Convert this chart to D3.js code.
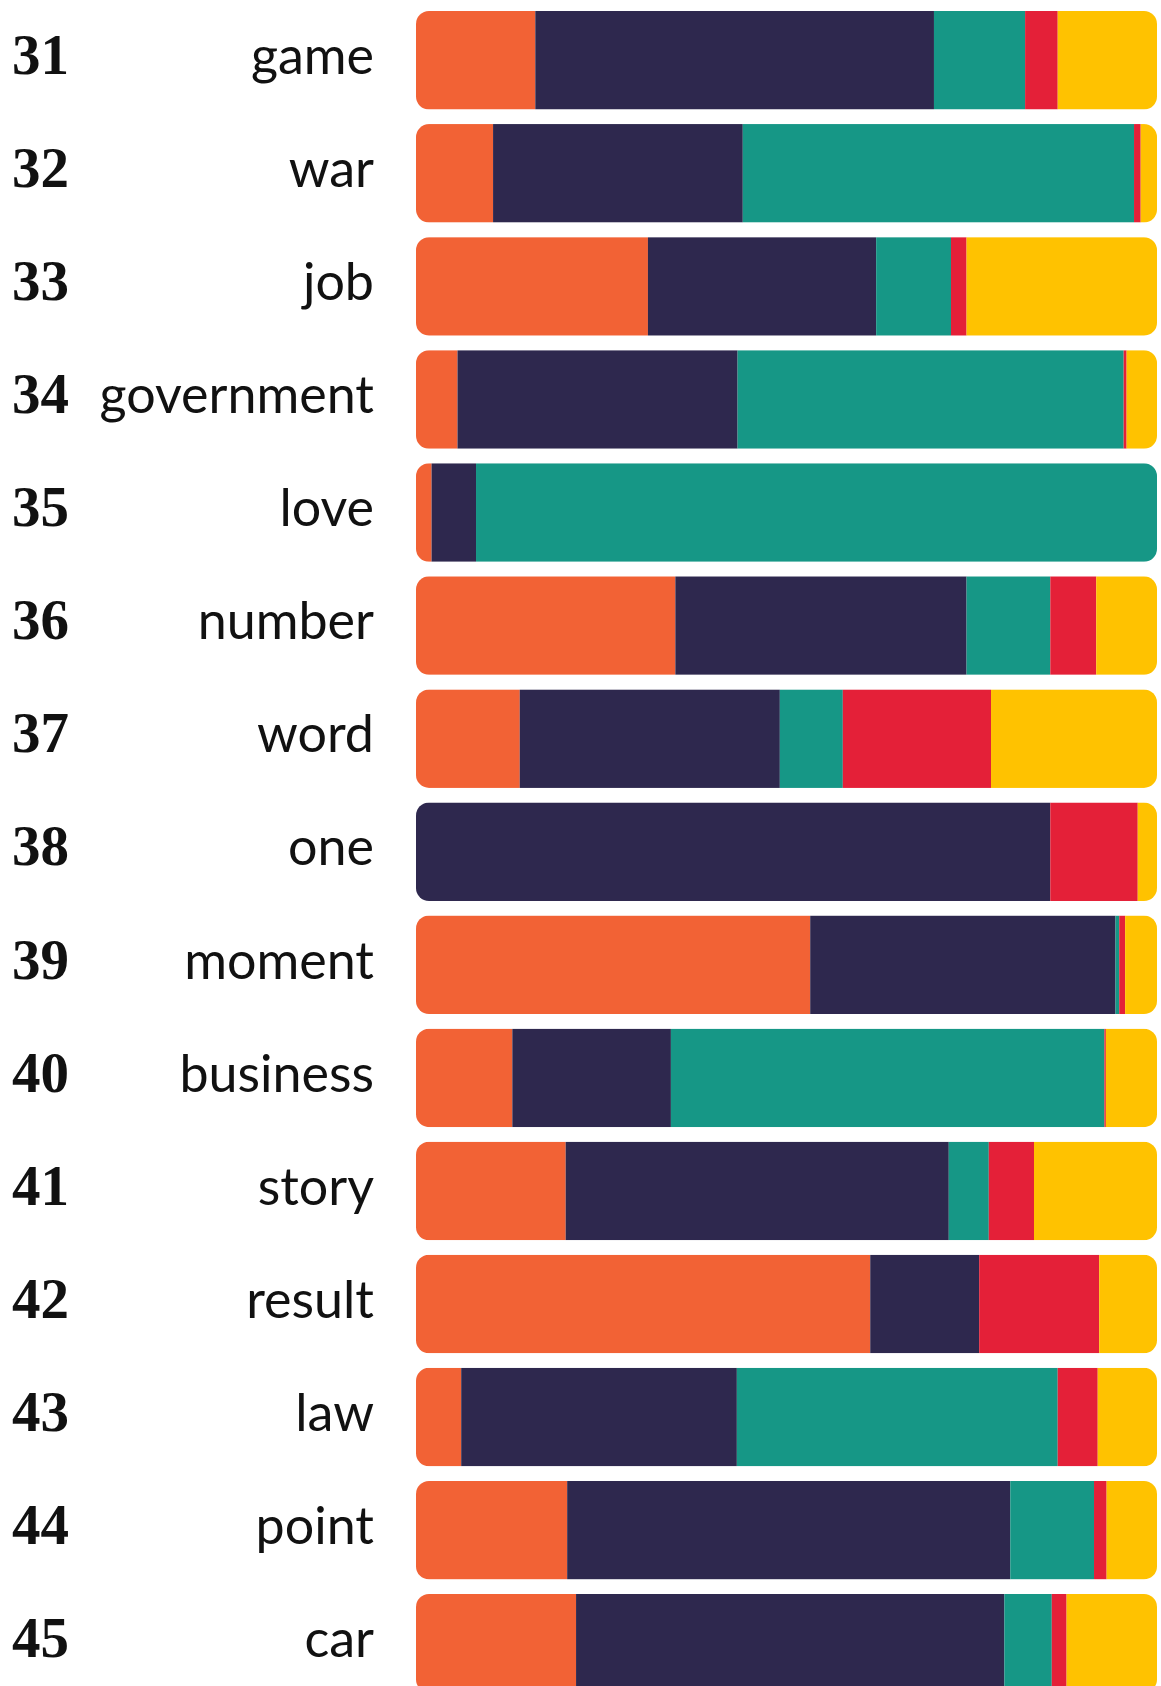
<!DOCTYPE html>
<html>
<head>
<meta charset="utf-8">
<script src="https://cdn.jsdelivr.net/npm/d3@7"></script>
<style>
  body { margin: 0; background: #fff; }
  #chart svg { display: block; }
</style>
</head>
<body>
<div id="chart"></div>
<script>
// ranks + words, top to bottom
var ranks = [31, 32, 33, 34, 35, 36, 37, 38, 39, 40, 41, 42, 43, 44, 45];
var words = ['game', 'war', 'job', 'government', 'love', 'number', 'word', 'one',
             'moment', 'business', 'story', 'result', 'law', 'point', 'car'];

// share of each segment (percent)
var seriesKeys = ['orange', 'navy', 'teal', 'red', 'yellow'];
var orange = [16.1, 10.4, 31.3,  5.6,  2.1, 35.0, 14.0,  0.0, 53.2, 13.0, 20.2, 61.3,  6.1, 20.4, 21.6];
var navy   = [53.8, 33.7, 30.8, 37.8,  6.0, 39.3, 35.1, 85.6, 41.2, 21.4, 51.7, 14.7, 37.2, 59.8, 57.8];
var teal   = [12.3, 52.8, 10.1, 52.1, 91.9, 11.3,  8.5,  0.0,  0.5, 58.5,  5.4,  0.0, 43.3, 11.3,  6.4];
var red    = [ 4.4,  0.9,  2.1,  0.4,  0.0,  6.2, 20.0, 11.8,  0.8,  0.2,  6.1, 16.2,  5.4,  1.7,  2.0];
var yellow = [13.4,  2.2, 25.7,  4.1,  0.0,  8.2, 22.4,  2.6,  4.3,  6.9, 16.6,  7.8,  8.0,  6.8, 12.2];

var colors = { orange: '#f26235', navy: '#2e284e', teal: '#169786', red: '#e42038', yellow: '#ffc200' };

var totalWidth = 1161;
var totalHeight = 1700;
var barLeft = 416, barRight = 1157;
var rowStep = 113.07, barH = 98.5, top0 = 11;

var rows = ranks.map(function(r, i) {
  return { rank: r, word: words[i], orange: orange[i], navy: navy[i], teal: teal[i], red: red[i], yellow: yellow[i] };
});

var svg = d3.select('#chart')
  .append('svg')
  .attr('width', totalWidth)
  .attr('height', totalHeight);

var stack = d3.stack().keys(seriesKeys)
  .offset(d3.stackOffsetExpand);
var layers = stack(rows);

var x = d3.scaleLinear().domain([0, 1]).range([barLeft, barRight]);
var y = d3.scalePoint()
  .domain(d3.range(rows.length))
  .range([top0, top0 + rowStep * (rows.length - 1)]);

// one clip per row for the rounded ends
var defs = svg.append('defs');
rows.forEach(function(d, i) {
  defs.append('clipPath')
    .attr('id', 'clip-' + i)
    .append('rect')
    .attr('x', x(0))
    .attr('y', y(i))
    .attr('width', x(1) - x(0))
    .attr('height', barH)
    .attr('rx', 13).attr('ry', 13);
});

var rowG = svg.selectAll('g.row')
  .data(rows)
  .enter()
  .append('g')
  .attr('class', 'row')
  .attr('clip-path', function(d, i) { return 'url(#clip-' + i + ')'; });

layers.forEach(function(layer) {
  rowG.append('rect')
    .datum(function(d, i) { return layer[i]; })
    .attr('x', function(s) { return x(s[0]); })
    .attr('y', function(s) { return y(rows.indexOf(s.data)); })
    .attr('width', function(s) { return Math.max(0, x(s[1]) - x(s[0])); })
    .attr('height', barH)
    .attr('fill', colors[layer.key]);
});

// rank numbers
svg.selectAll('text.rank')
  .data(rows)
  .enter()
  .append('text')
  .attr('class', 'rank')
  .attr('x', 12)
  .attr('y', function(d, i) { return y(i) + 63; })
  .style('font-family', '"Liberation Serif", serif')
  .style('font-weight', 'bold')
  .style('font-size', '57px')
  .style('fill', '#111')
  .text(function(d) { return d.rank; });

// words, right aligned
svg.selectAll('text.word')
  .data(rows)
  .enter()
  .append('text')
  .attr('class', 'word')
  .attr('x', 374)
  .attr('y', function(d, i) { return y(i) + 63; })
  .attr('text-anchor', 'end')
  .style('font-family', 'Lato, sans-serif')
  .style('font-size', '52px')
  .style('fill', '#111')
  .text(function(d) { return d.word; });
</script>
</body>
</html>
